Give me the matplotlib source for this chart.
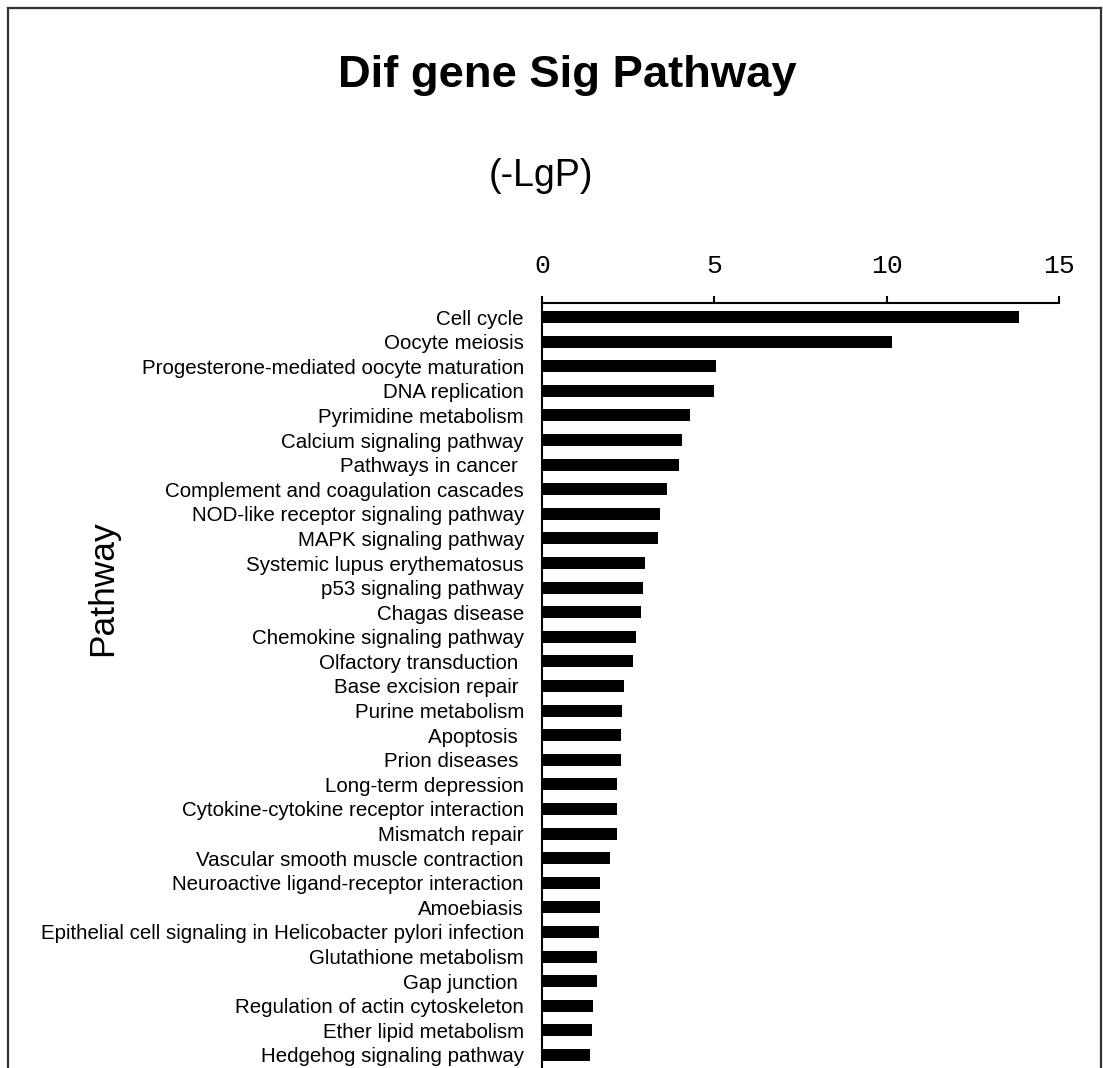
import matplotlib
matplotlib.use("Agg")
import matplotlib.pyplot as plt
from matplotlib.lines import Line2D

pathways = [
    "Cell cycle", "Oocyte meiosis", "Progesterone-mediated oocyte maturation",
    "DNA replication", "Pyrimidine metabolism", "Calcium signaling pathway",
    "Pathways in cancer ", "Complement and coagulation cascades",
    "NOD-like receptor signaling pathway", "MAPK signaling pathway",
    "Systemic lupus erythematosus", "p53 signaling pathway", "Chagas disease",
    "Chemokine signaling pathway", "Olfactory transduction ",
    "Base excision repair ", "Purine metabolism", "Apoptosis ",
    "Prion diseases ", "Long-term depression",
    "Cytokine-cytokine receptor interaction", "Mismatch repair",
    "Vascular smooth muscle contraction",
    "Neuroactive ligand-receptor interaction", "Amoebiasis",
    "Epithelial cell signaling in Helicobacter pylori infection",
    "Glutathione metabolism", "Gap junction ",
    "Regulation of actin cytoskeleton", "Ether lipid metabolism",
    "Hedgehog signaling pathway",
]
neg_lgp = [
    13.83, 10.15, 5.06, 4.99, 4.30, 4.06, 3.97, 3.62, 3.42, 3.37,
    2.98, 2.93, 2.88, 2.73, 2.63, 2.38, 2.33, 2.28, 2.28, 2.19,
    2.19, 2.19, 1.98, 1.69, 1.69, 1.64, 1.60, 1.60, 1.49, 1.44, 1.39,
]
x_ticks = [0, 5, 10, 15]

W, H = 1103, 1068
fig = plt.figure(figsize=(W / 100, H / 100), dpi=100)
fig.patch.set_facecolor("white")

sans = ["Liberation Sans", "DejaVu Sans"]
mono = ["Liberation Mono", "DejaVu Sans Mono"]

left, right = 542 / W, 1059 / W
top = 1 - 303 / H
ax = fig.add_axes([left, 0.0, right - left, top])

ypos = list(range(len(pathways)))
ax.barh(ypos, neg_lgp, height=0.49, color="black")
ax.set_xlim(0, 15)
ax.set_ylim(30.53, -0.57)

ax.xaxis.tick_top()
ax.set_xticks(x_ticks)
ax.set_xticklabels([str(t) for t in x_ticks], family=mono, fontsize=19)
ax.tick_params(axis="x", direction="out", length=5, width=1.5, pad=13, colors="black")
ax.set_yticks(ypos)
ax.set_yticklabels(pathways, family=sans, fontsize=14.8)
ax.tick_params(axis="y", length=0, pad=13)

for s in ["right", "bottom"]:
    ax.spines[s].set_visible(False)
for s in ["top", "left"]:
    ax.spines[s].set_linewidth(1.5)
    ax.spines[s].set_color("black")

fig.text(567 / W, 1 - 87 / H, "Dif gene Sig Pathway", ha="center", va="baseline",
         family=sans, fontsize=32.7, fontweight="bold")
fig.text(541 / W, 1 - 186 / H, "(-LgP)", ha="center", va="baseline",
         family=sans, fontsize=27)
fig.text(103 / W, 1 - 588 / H, "Pathway", ha="center", va="center",
         rotation=90, family=sans, fontsize=25.5)

# figure border
bx0, bx1, by = 8 / W, 1101 / W, 1 - 8 / H
for xs, ys in [([bx0, bx1], [by, by]), ([bx0, bx0], [by, -0.01]), ([bx1, bx1], [by, -0.01])]:
    fig.add_artist(Line2D(xs, ys, transform=fig.transFigure, color="#333333", lw=1.6))

fig.savefig("out.png", dpi=100)
